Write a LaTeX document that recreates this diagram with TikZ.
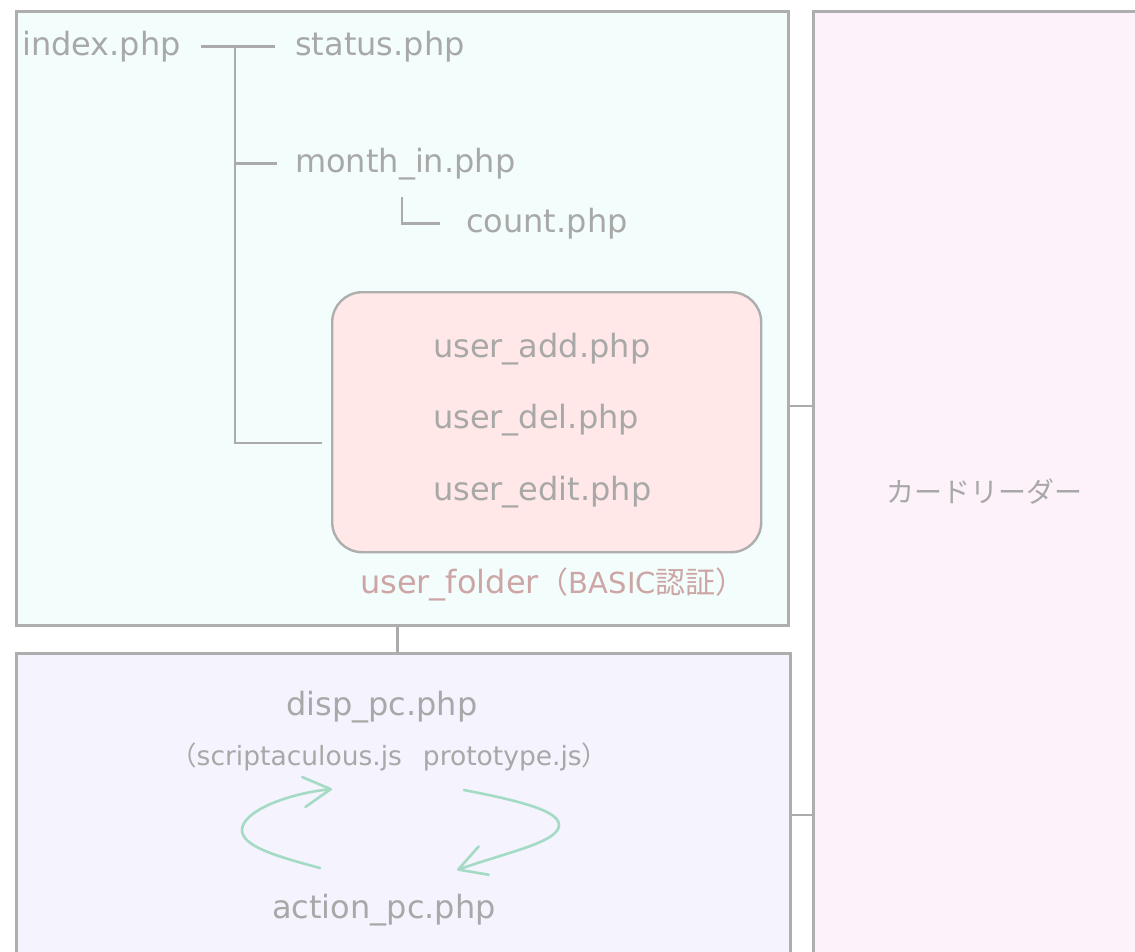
\documentclass[tikz,border=0pt]{standalone}
\usepackage{fontspec}
\setmainfont{DejaVu Sans}
\newfontfamily\cjk{Noto Sans CJK JP}
\usetikzlibrary{arrows.meta}
\definecolor{topfill}{HTML}{F2FDFC}
\definecolor{botfill}{HTML}{F5F3FD}
\definecolor{rightfill}{HTML}{FDF1FA}
\definecolor{userfill}{HTML}{FFE8E7}
\definecolor{bordergray}{HTML}{AEAEAE}
\definecolor{linegray}{HTML}{ABABAB}
\definecolor{txtgray}{HTML}{A8A8A8}
\definecolor{labelpink}{HTML}{CDA5A5}
\definecolor{arrowgreen}{HTML}{A3DBC4}
\begin{document}
\begin{tikzpicture}[x=1pt,y=-1pt,
  box/.style={draw=bordergray, line width=3pt, inner sep=0pt, anchor=north west},
  txt/.style={inner sep=0pt, anchor=base west, text=txtgray, font=\fontsize{32}{36}\selectfont},
  tree/.style={draw=linegray, line width=2.8pt},
  conn/.style={draw=linegray, line width=2.2pt},
  loop/.style={draw=arrowgreen, line width=2.6pt, line cap=round,
    -{Straight Barb[length=27pt,width=30pt,line width=2.6pt,round]}}
]
\useasboundingbox (0,0) rectangle (1135,951);
\fill[white] (0,0) rectangle (1135,951);
\clip (0,0) rectangle (1135,951);

% boxes
\node[box, fill=topfill, minimum width=772pt, minimum height=614pt] (top) at (15,10) {};
\node[box, fill=botfill, minimum width=774pt, minimum height=330pt] (bot) at (15,652) {};
\node[box, fill=rightfill, minimum width=340pt, minimum height=960pt] (right) at (812,10) {};
\node[box, fill=userfill, line width=2.4pt, rounded corners=30pt, minimum width=429pt, minimum height=260pt] (ubox) at (331,291) {};

% box connectors
\coordinate (h1) at (800,406);
\coordinate (h2) at (800,815);
\draw[conn] ([xshift=-5pt]top.south) -- ([xshift=-5pt]top.south |- bot.north);
\draw[conn] (top.east |- h1) -- (right.west |- h1);
\draw[conn] (bot.east |- h2) -- (right.west |- h2);

% texts
\node[txt] (index) at (22,55) {index.php};
\node[txt] (status) at (295,55) {status.php};
\node[txt] (month) at (295,172) {month\_in.php};
\node[txt] (count) at (466,232) {count.php};
\node[txt] (uadd) at (433,357) {user\_add.php};
\node[txt] (udel) at (433,428) {user\_del.php};
\node[txt] (uedit) at (433,500) {user\_edit.php};
\node[txt, text=labelpink] (ufold) at (360,593) {user\_folder{\cjk\fontsize{30}{32}\selectfont （}{\fontsize{29}{32}\selectfont BASIC}{\cjk\fontsize{30}{32}\selectfont 認証）}};
\node[txt] (disp) at (286,715) {disp\_pc.php};
\node[txt, font=\fontsize{26.5}{30}\selectfont] (libs) at (170,765) {{\cjk （}scriptaculous.js\hspace{21pt}prototype.js{\cjk ）}};
\node[txt] (action) at (272,918) {action\_pc.php};
\node[txt, font=\cjk\fontsize{28}{30}\selectfont] (reader) at (886,502) {カードリーダー};

% tree
\coordinate (jt) at (235,0);
\coordinate (jb) at (235,443);
\coordinate (cl) at (402,197);
\draw[tree] ([xshift=20pt]index.east) -- ([xshift=-20pt]status.west);
\draw[tree] (jt |- index.east) -- (jb) -- ([xshift=-9pt]ubox.west |- jb);
\draw[tree] (jt |- month.west) -- ([xshift=-18pt]month.west);
\draw[tree] (cl) -- (cl |- count.west) -- ([xshift=-26pt]count.west);

% loop arrows
\coordinate (la) at (320,868);
\coordinate (lb) at (332,789);
\coordinate (ra) at (464,790);
\coordinate (rb) at (457,870);
\draw[loop] (la) .. controls (275,856) and (242,846) .. (242,830) .. controls (242,812) and (285,794) .. (lb);
\draw[loop] (ra) .. controls (515,800) and (559,810) .. (559,825) .. controls (559,842) and (508,852) .. (rb);
\end{tikzpicture}
\end{document}
